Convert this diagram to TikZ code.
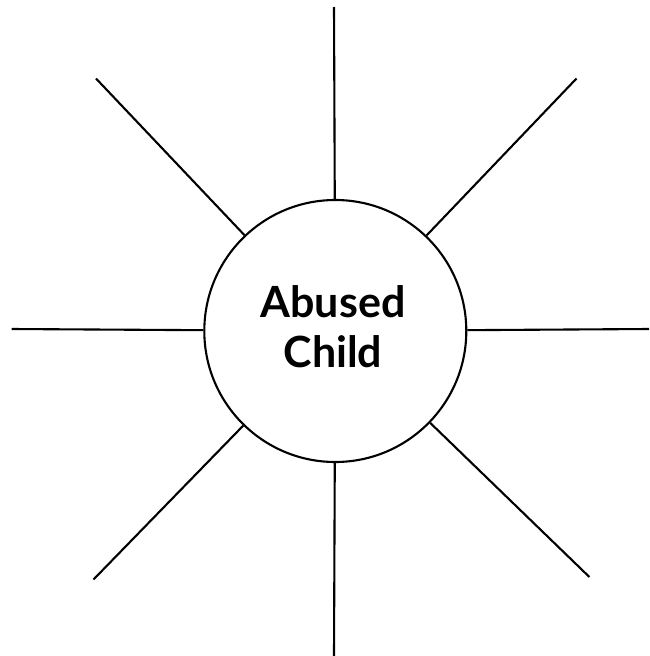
\documentclass[tikz,border=0pt]{standalone}
\usepackage{fontspec}
\setmainfont{Lato}
\begin{document}
\begin{tikzpicture}[x=1pt,y=-1pt,
  spoke/.style={line width=2.1pt, draw=black},
  hub/.style={circle, draw=black, line width=2.1pt, minimum size=262pt, inner sep=0pt},
  caption/.style={align=center, inner sep=0pt, font=\fontsize{43}{50}\selectfont\bfseries}]
\useasboundingbox (0,0) rectangle (649,656);
\node[hub] (c) at (335.3,331) {};
\node[caption] (t) at (333,327) {Abused\\Child};
\coordinate (n) at (334,7);
\coordinate (s) at (334,656);
\coordinate (w) at (11.6,329);
\coordinate (e) at (649,329);
\coordinate (nw) at (96,78.5);
\coordinate (ne) at (576.5,78.5);
\coordinate (sw) at (93.5,579.5);
\coordinate (se) at (589.4,577);
\foreach \p in {n,s,w,e,nw,ne,sw,se}
  \draw[spoke] (c) -- (\p);
\end{tikzpicture}
\end{document}
